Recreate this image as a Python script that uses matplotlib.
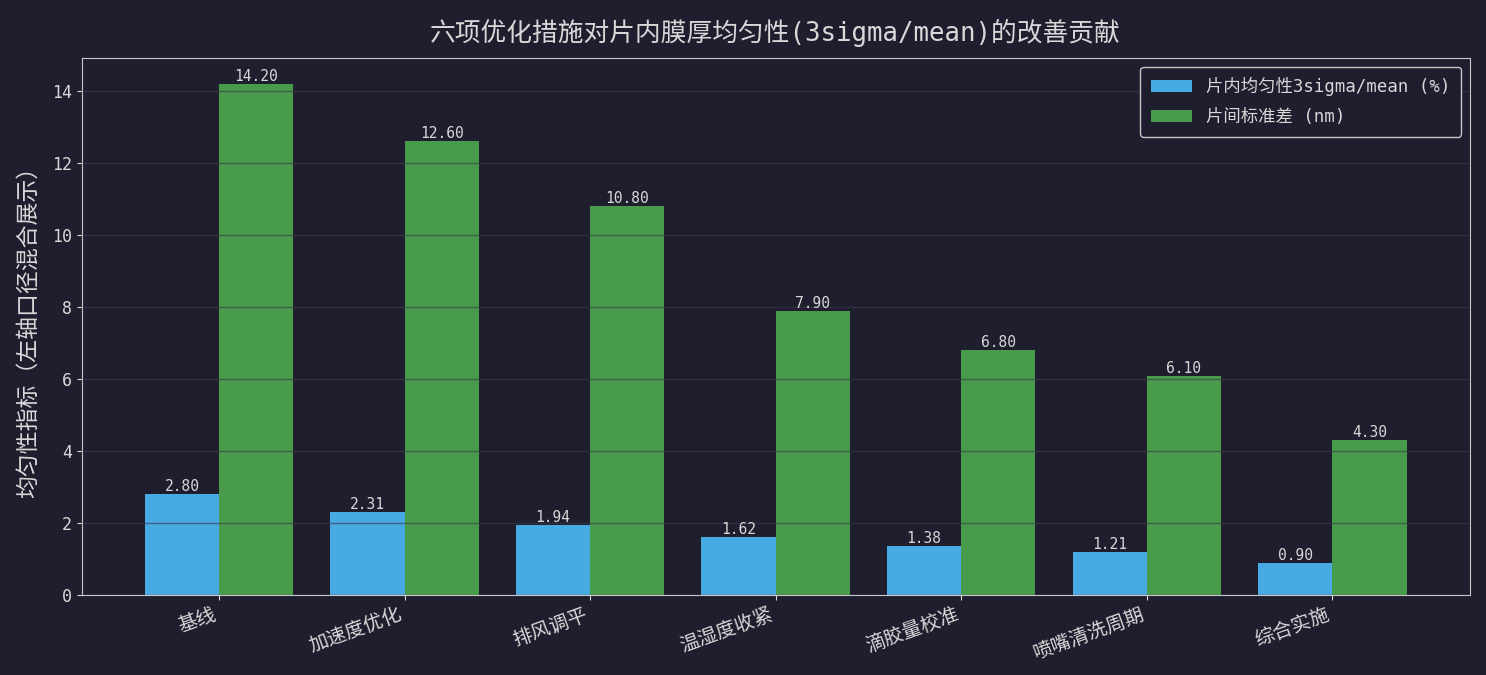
import matplotlib
matplotlib.use("Agg")
from matplotlib import pyplot as plt
import numpy as np

plt.rcParams['font.family'] = ['DejaVu Sans Mono', 'Noto Sans CJK SC']
plt.rcParams['axes.unicode_minus'] = False

# Data
categories = ["基线", "加速度优化", "排风调平", "温湿度收紧", "滴胶量校准", "喷嘴清洗周期", "综合实施"]
within_wafer = [2.80, 2.31, 1.94, 1.62, 1.38, 1.21, 0.90]
wafer_to_wafer = [14.20, 12.60, 10.80, 7.90, 6.80, 6.10, 4.30]

bg = '#1e1e2e'
fg = '#d8d8d8'

fig, ax = plt.subplots(figsize=(14.86, 6.75), dpi=100)
fig.patch.set_facecolor(bg)
ax.set_facecolor(bg)

x = np.arange(len(categories))
w = 0.4
b1 = ax.bar(x - w / 2, within_wafer, w, color='#48aae2', label='片内均匀性3sigma/mean (%)', zorder=2)
b2 = ax.bar(x + w / 2, wafer_to_wafer, w, color='#489b4a', label='片间标准差 (nm)', zorder=2)

for bars in (b1, b2):
    for r in bars:
        h = r.get_height()
        ax.text(r.get_x() + r.get_width() / 2, h, f'{h:.2f}', ha='center', va='bottom',
                color=fg, fontsize=10.5, zorder=4)

ax.set_ylim(0, max(wafer_to_wafer) * 1.05)
ax.set_xticks(x)
ax.set_xticklabels(categories, rotation=20, ha='right', fontsize=14)
ax.tick_params(axis='y', colors=fg, labelsize=12)
ax.tick_params(axis='x', colors=fg)
ax.set_ylabel('均匀性指标（左轴口径混合展示）', color=fg, fontsize=16.5, labelpad=8)
ax.set_title('六项优化措施对片内膜厚均匀性(3sigma/mean)的改善贡献', color=fg, fontsize=18.5, pad=12)
ax.yaxis.grid(True, color='#3a3a4c', alpha=0.6, linewidth=1, zorder=3)
ax.set_axisbelow(False)
for s in ax.spines.values():
    s.set_color('#c8c8c8')

leg = ax.legend(loc='upper right', fontsize=12.5, facecolor=bg, edgecolor='#c8c8c8', labelcolor=fg,
                handlelength=2.4, labelspacing=0.7, borderpad=0.6)
leg.get_frame().set_alpha(1)

plt.subplots_adjust(left=0.055, right=0.989, top=0.914, bottom=0.118)
plt.savefig('out.png', dpi=100, facecolor=bg)
plt.close()
